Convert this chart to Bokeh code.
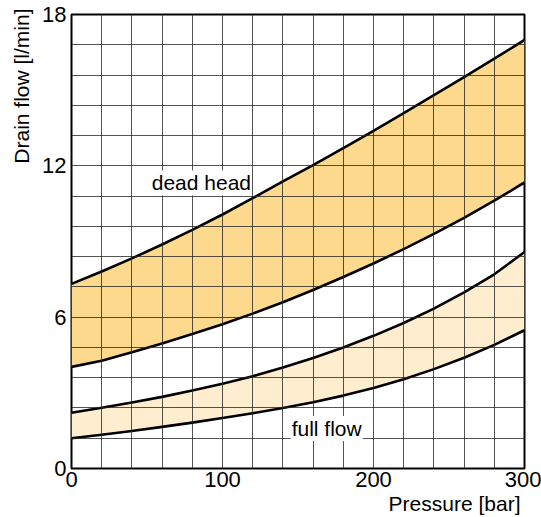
from bokeh.plotting import figure
from bokeh.models import FixedTicker, Label, Title
from bokeh.embed import file_html
from bokeh.resources import INLINE

# ---- data ----
pressure = [0, 20, 40, 60, 80, 100, 120, 140, 160, 180, 200, 220, 240, 260, 280, 300]
dead_head_upper = [7.32, 7.81, 8.33, 8.88, 9.46, 10.07, 10.72, 11.38, 12.03, 12.70, 13.39, 14.09, 14.80, 15.52, 16.25, 16.99]
dead_head_lower = [4.03, 4.27, 4.61, 4.96, 5.33, 5.72, 6.14, 6.59, 7.08, 7.59, 8.13, 8.70, 9.30, 9.94, 10.62, 11.34]
full_flow_upper = [2.21, 2.41, 2.62, 2.84, 3.09, 3.36, 3.66, 4.00, 4.38, 4.80, 5.26, 5.77, 6.34, 6.98, 7.70, 8.58]
full_flow_lower = [1.20, 1.34, 1.49, 1.65, 1.82, 2.00, 2.19, 2.40, 2.63, 2.89, 3.19, 3.54, 3.94, 4.39, 4.90, 5.48]

x_ticks = [0, 100, 200, 300]
y_ticks = [0, 6, 12, 18]
x_grid = [0, 20, 40, 60, 80, 100, 120, 140, 160, 180, 200, 220, 240, 260, 280, 300]
y_grid = [0, 1.2, 2.4, 3.6, 4.8, 6.0, 7.2, 8.4, 9.6, 10.8, 12.0, 13.2, 14.4, 15.6, 16.8, 18.0]

x_label = "Pressure [bar]"
y_label = "Drain flow [l/min]"
band_labels = ["dead head", "full flow"]
band_label_pos = [(86.0, 11.32), (169.0, 1.59)]

FONT = "Liberation Sans"
DEAD_COLOR = "#fdd98e"
FULL_COLOR = "#ffedcf"

p = figure(width=541, height=517, x_range=(0, 300), y_range=(0, 18),
           output_backend="svg", toolbar_location=None,
           min_border_left=68, min_border_right=17, min_border_top=14, min_border_bottom=49)

p.background_fill_color = "white"
p.border_fill_color = "white"
p.outline_line_color = "black"
p.outline_line_width = 2

# bands
p.varea(x=pressure, y1=dead_head_lower, y2=dead_head_upper, fill_color=DEAD_COLOR, level="underlay")
p.varea(x=pressure, y1=full_flow_lower, y2=full_flow_upper, fill_color=FULL_COLOR, level="underlay")

# grid (drawn above the bands)
for g, ticks in ((p.xgrid, x_grid), (p.ygrid, y_grid)):
    g.ticker = FixedTicker(ticks=ticks)
    g.grid_line_color = "#222222"
    g.grid_line_alpha = 0.78
    g.grid_line_width = 1
    g.level = "glyph"

# curves
for ys in (dead_head_upper, dead_head_lower, full_flow_upper, full_flow_lower):
    p.line(pressure, ys, line_color="black", line_width=2.6, line_join="round")

# axes
p.xaxis.ticker = FixedTicker(ticks=x_ticks)
p.yaxis.ticker = FixedTicker(ticks=y_ticks)
for ax in (p.xaxis[0], p.yaxis[0]):
    ax.axis_line_color = None
    ax.major_tick_line_color = None
    ax.minor_tick_line_color = None
    ax.major_tick_out = 0
    ax.major_tick_in = 0
    ax.major_label_text_font = FONT
    ax.major_label_text_font_size = "22px"
    ax.major_label_text_color = "black"
p.xaxis.major_label_standoff = 3
p.yaxis.major_label_standoff = 5

# axis titles (right / top aligned as in the reference)
p.add_layout(Title(text=x_label, align="right", offset=4, standoff=0,
                   text_font=FONT, text_font_size="21px", text_font_style="normal",
                   text_color="black"), "below")
p.add_layout(Title(text=y_label, align="right", offset=-6, standoff=14,
                   text_font=FONT, text_font_size="21px", text_font_style="normal",
                   text_color="black"), "left")

# band labels
for txt, (lx, ly) in zip(band_labels, band_label_pos):
    p.add_layout(Label(x=lx, y=ly, text=txt, text_align="center", text_baseline="alphabetic",
                       text_font=FONT, text_font_size="21px", text_color="black",
                       background_fill_color="white", padding=1))

open("out.html", "w").write(file_html(p, INLINE))
